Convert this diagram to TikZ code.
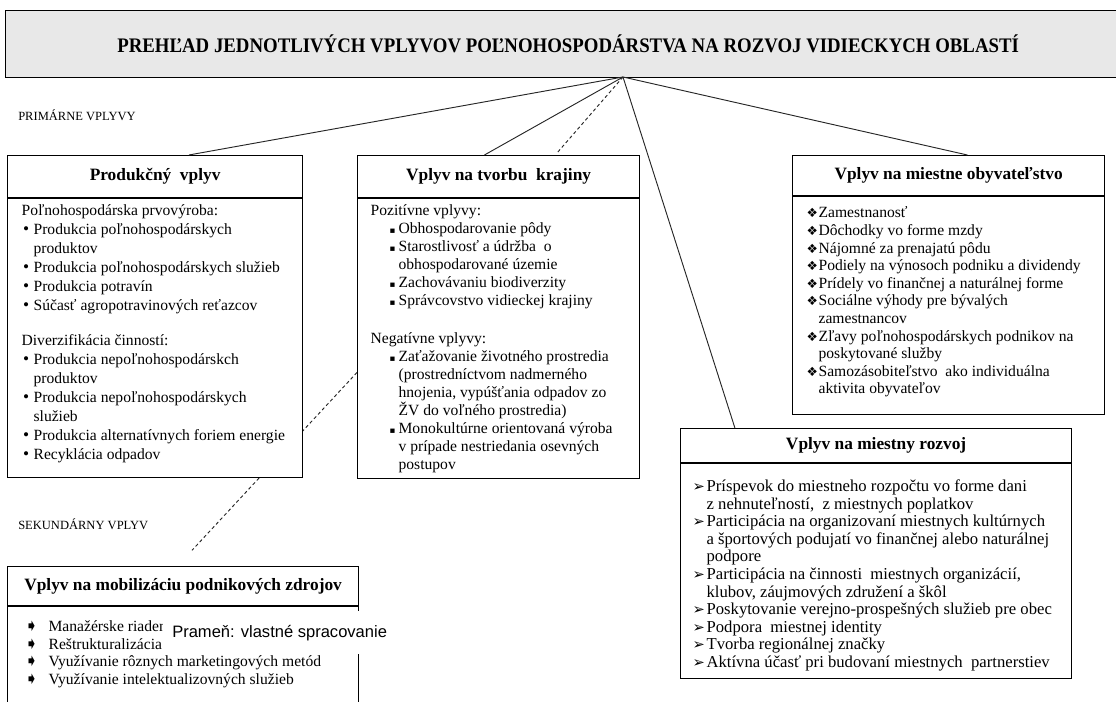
\documentclass[tikz,border=0pt]{standalone}
\usepackage{graphicx}
\usepackage{fontspec}
\setmainfont{Liberation Serif}
\newfontfamily\pramenfont{Liberation Sans}
\newfontfamily\znakfont{DejaVu Sans}
\usetikzlibrary{positioning,calc}

\newlength\px \setlength\px{0.75pt}
\newlength\odrL \newlength\odrT
% odrazka: #1 znak, #2 text
\newcommand{\pol}[2]{\par\noindent\hangindent=\odrT\hangafter=1\hspace*{\odrL}\makebox[\dimexpr\odrT-\odrL\relax][l]{#1}#2}
% obsah boxu: #1 sirka, #2 vyska, #3 okraj vlavo, #4 okraj hore, #5 text
\newcommand{\obsah}[5]{\parbox[c][#2\px][t]{#1\px}{\leftskip=#3\px\rightskip=0pt plus 1fil\parindent=0pt\vspace*{#4\px}#5\par}}
\newcommand{\bodka}{{\fontsize{13}{13}\selectfont •}}
\newcommand{\stvorec}{{\znakfont\fontsize{6.5}{7}\selectfont ▪}}
\newcommand{\kosostvorec}{{\znakfont\fontsize{9.5}{9}\selectfont ❖}}
\newcommand{\sipka}{{\znakfont\fontsize{11}{10}\selectfont ➢}}
\newcommand{\sipkab}{{\znakfont\fontsize{12.5}{10}\selectfont ➧}}

\tikzset{
  titul/.style={draw, line width=1pt, fill=black!9, inner sep=0pt},
  hlava/.style={draw, line width=0.9pt, fill=white, inner sep=0pt,
    font=\fontsize{13}{15}\selectfont\bfseries},
  telo/.style={draw, line width=0.9pt, fill=white, inner sep=0pt},
  vetva/.style={draw=black!85, line width=0.7pt},
  vetvac/.style={vetva, dash pattern=on 2.5pt off 2pt},
  popis/.style={font=\fontsize{9.4}{10}\selectfont, anchor=west, inner sep=0pt}
}

\begin{document}
\begin{tikzpicture}[x=0.75pt, y=-0.75pt]
  \useasboundingbox (0,0) rectangle (1116,702);

  % Nadpis
  \node[titul, minimum width=1125*\px, minimum height=67*\px, anchor=north west] (titul) at (5,10)
    {\scalebox{0.91}[1]{\fontsize{15.5}{17}\selectfont\bfseries PREHĽAD JEDNOTLIVÝCH VPLYVOV POĽNOHOSPODÁRSTVA NA ROZVOJ VIDIECKYCH OBLASTÍ}};
  \coordinate (vrchol) at (623,77);

  \node[popis] (prim) at (18,115) {PRIMÁRNE VPLYVY};
  \node[popis] (sek) at (18,524) {SEKUNDÁRNY VPLYV};

  % Hlavicky boxov
  \node[hlava, minimum width=295*\px, minimum height=42*\px, anchor=north west] (prodhead) at (7,155) {Produkčný\ \ vplyv};
  \node[hlava, minimum width=282*\px, minimum height=42*\px, anchor=north west] (krajhead) at (357,155) {Vplyv na tvorbu\ \ krajiny};
  \node[hlava, minimum width=312*\px, minimum height=40*\px, anchor=north west] (obyvhead) at (792,155) {Vplyv na miestne obyvateľstvo};
  \node[hlava, minimum width=391*\px, minimum height=34*\px, anchor=north west] (rozvhead) at (680,428) {Vplyv na miestny rozvoj};
  \node[hlava, minimum width=351*\px, minimum height=39*\px, anchor=north west] (mobilhead) at (7,566) {Vplyv na mobilizáciu podnikových zdrojov};

  % Sekundarny vplyv (bodkovane)
  \draw[vetvac, shorten >=16pt] ($(krajhead.south west)!0.625!(krajhead.south west |- 0,477)$)
    -- ($(mobilhead.north west)!0.484!(mobilhead.north east)$);

  % Produkcny vplyv
  \node[telo, below=0pt of prodhead, font=\fontsize{11.7}{14.25}\selectfont] (prodbody)
    {\setlength\odrL{1.5\px}\setlength\odrT{12\px}\obsah{295}{279}{14}{6}{%
      \noindent Poľnohospodárska prvovýroba:
      \pol{\bodka}{Produkcia poľnohospodárskych\\produktov}
      \pol{\bodka}{Produkcia poľnohospodárskych služieb}
      \pol{\bodka}{Produkcia potravín}
      \pol{\bodka}{Súčasť agropotravinových reťazcov}
      \par\vspace{16\px}
      \noindent Diverzifikácia činností:
      \pol{\bodka}{Produkcia nepoľnohospodárskch\\produktov}
      \pol{\bodka}{Produkcia nepoľnohospodárskych\\služieb}
      \pol{\bodka}{Produkcia alternatívnych foriem energie}
      \pol{\bodka}{Recyklácia odpadov}}};

  % Vplyv na krajinu
  \node[telo, below=0pt of krajhead, font=\fontsize{11.7}{13.5}\selectfont] (krajbody)
    {\setlength\odrL{19\px}\setlength\odrT{28\px}\obsah{282}{280}{13}{6}{%
      \noindent Pozitívne vplyvy:
      \pol{\stvorec}{Obhospodarovanie pôdy}
      \pol{\stvorec}{Starostlivosť a údržba\ \ o\\obhospodarované územie}
      \pol{\stvorec}{Zachovávaniu biodiverzity}
      \pol{\stvorec}{Správcovstvo vidieckej krajiny}
      \par\vspace{20\px}
      \noindent Negatívne vplyvy:
      \pol{\stvorec}{Zaťažovanie životného prostredia\\(prostredníctvom nadmerného\\hnojenia, vypúšťania odpadov zo\\ŽV do voľného prostredia)}
      \pol{\stvorec}{Monokultúrne orientovaná výroba\\v prípade nestriedania osevných\\postupov}}};

  % Vplyv na obyvatelstvo
  \node[telo, below=0pt of obyvhead, font=\fontsize{11.7}{13.2}\selectfont] (obyvbody)
    {\setlength\odrL{0pt}\setlength\odrT{12\px}\obsah{312}{218}{14}{10}{%
      \pol{\kosostvorec}{Zamestnanosť}
      \pol{\kosostvorec}{Dôchodky vo forme mzdy}
      \pol{\kosostvorec}{Nájomné za prenajatú pôdu}
      \pol{\kosostvorec}{Podiely na výnosoch podniku a dividendy}
      \pol{\kosostvorec}{Prídely vo finančnej a naturálnej forme}
      \pol{\kosostvorec}{Sociálne výhody pre bývalých\\zamestnancov}
      \pol{\kosostvorec}{Zľavy poľnohospodárskych podnikov na\\poskytované služby}
      \pol{\kosostvorec}{Samozásobiteľstvo\ \ ako individuálna\\aktivita obyvateľov}}};

  % Vplyv na miestny rozvoj
  \node[telo, below=0pt of rozvhead, font=\fontsize{12.5}{13.2}\selectfont] (rozvbody)
    {\setlength\odrL{0pt}\setlength\odrT{14\px}\obsah{391}{215}{12}{16}{%
      \pol{\sipka}{Príspevok do miestneho rozpočtu vo forme dani\\z nehnuteľností,\ \ z miestnych poplatkov}
      \pol{\sipka}{Participácia na organizovaní miestnych kultúrnych\\a športových podujatí vo finančnej alebo naturálnej\\podpore}
      \pol{\sipka}{Participácia na činnosti\ \ miestnych organizácií,\\klubov, záujmových združení a škôl}
      \pol{\sipka}{Poskytovanie verejno-prospešných služieb pre obec}
      \pol{\sipka}{Podpora\ \ miestnej identity}
      \pol{\sipka}{Tvorba regionálnej značky}
      \pol{\sipka}{Aktívna účasť pri budovaní miestnych\ \ partnerstiev}}};

  % Mobilizacia zdrojov
  \node[telo, below=0pt of mobilhead, font=\fontsize{11.7}{13.1}\selectfont] (mobilbody)
    {\setlength\odrL{17\px}\setlength\odrT{41\px}\obsah{351}{101}{0}{14}{%
      \pol{\sipkab}{Manažérske riadenie}
      \pol{\sipkab}{Reštrukturalizácia}
      \pol{\sipkab}{Využívanie rôznych marketingových metód}
      \pol{\sipkab}{Využívanie intelektualizovných služieb}}};

  \node[fill=white, inner xsep=6.75pt, inner ysep=0pt, minimum height=43*\px, anchor=north west,
    font=\pramenfont\fontsize{12.4}{14}\selectfont] (pramen) at (163,611) {Prameň: vlastné spracovanie};

  % Primarne vplyvy
  \draw[vetva] (vrchol) -- ($(prodhead.north west)!0.614!(prodhead.north east)$);
  \draw[vetva] (vrchol) -- ($(krajhead.north west)!0.45!(krajhead.north east)$);
  \draw[vetvac, shorten >=2pt] (vrchol) -- ($(krajhead.north west)!0.70!(krajhead.north east)$);
  \draw[vetva] (vrchol) -- ($(rozvhead.north west)!0.14!(rozvhead.north east)$);
  \draw[vetva] (vrchol) -- ($(obyvhead.north west)!0.56!(obyvhead.north east)$);
\end{tikzpicture}
\end{document}
